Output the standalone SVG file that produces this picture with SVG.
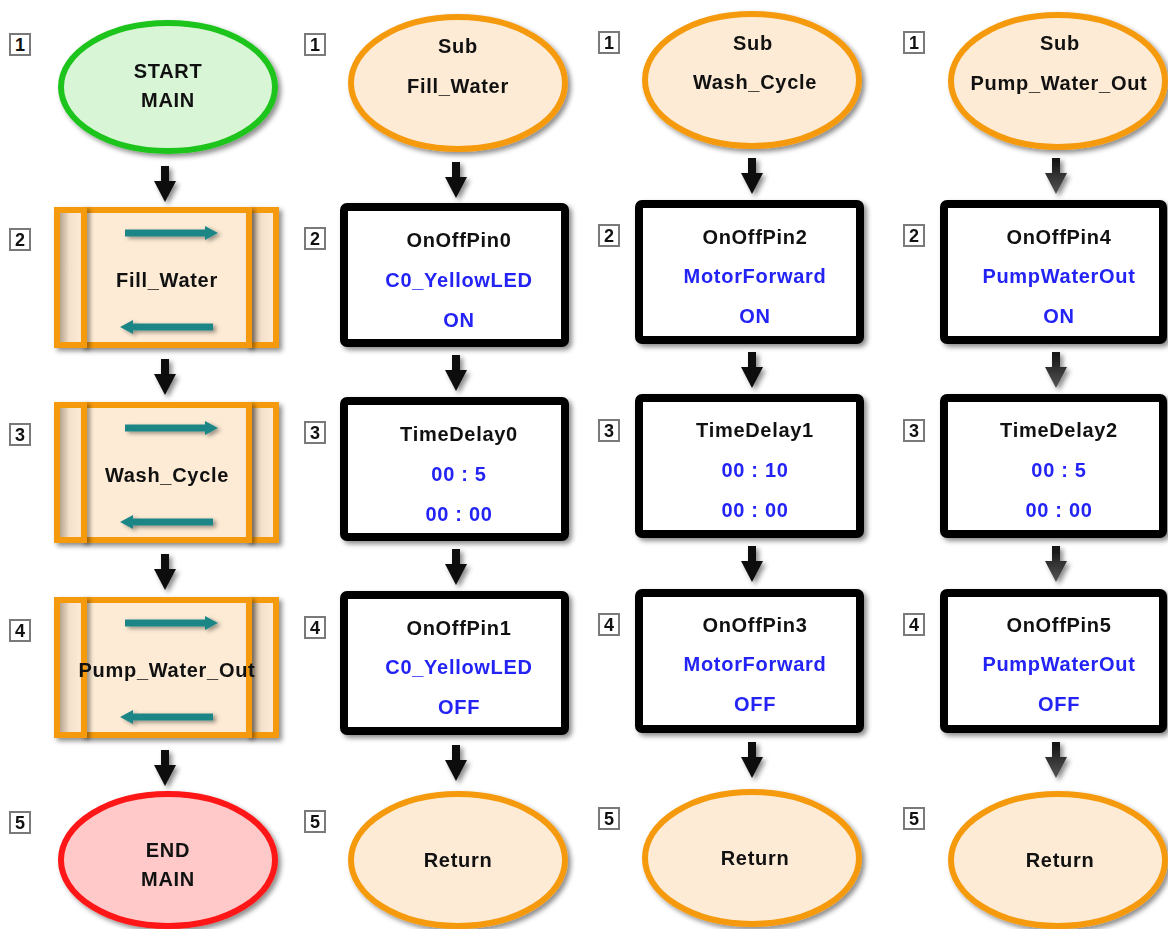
<svg xmlns="http://www.w3.org/2000/svg" xmlns:xlink="http://www.w3.org/1999/xlink" width="1168" height="929" viewBox="0 0 1168 929">
<defs>
<style>
text{font-family:"Liberation Sans",Arial,sans-serif;font-weight:bold;font-size:20px;letter-spacing:0.7px;text-anchor:middle;fill:#111}
.blue{fill:#2323f5}
.num rect{fill:#fff;stroke:#7a7a7a;stroke-width:2}
.num text{font-size:18px;letter-spacing:0}
.oval{fill:#fdebd5;stroke:#f59a10;stroke-width:6}
.box{fill:#fff;stroke:#000;stroke-width:8}
.call{fill:#fdebd5;stroke:#f59a10;stroke-width:6}
.bar{fill:#f59a10}
.side{fill:url(#sideG)}
.teal{fill:#1f8585}
.arr{fill:#111}
.garr{fill:url(#grayG)}
</style>
<filter id="sh" x="-10%" y="-10%" width="125%" height="130%">
<feDropShadow dx="3" dy="3" stdDeviation="2.5" flood-color="#000" flood-opacity="0.45"/>
</filter>
<filter id="bsh" x="-100%" y="-20%" width="400%" height="150%">
<feDropShadow dx="3" dy="2" stdDeviation="2" flood-color="#000" flood-opacity="0.4"/>
</filter>
<linearGradient id="sideG" x1="0" y1="0" x2="1" y2="0">
<stop offset="0" stop-color="#b8a58f"/>
<stop offset="0.45" stop-color="#f3e1cb"/>
<stop offset="1" stop-color="#fdebd5"/>
</linearGradient>
<linearGradient id="grayG" x1="0" y1="0" x2="0" y2="1">
<stop offset="0" stop-color="#111"/>
<stop offset="1" stop-color="#555"/>
</linearGradient>
<path id="dn" d="M-4,0 H4 V15 H11 L0,36 L-11,15 H-4 Z"/>
<path id="ra" d="M0,-3.5 H80 V-7 L93,0 L80,7 V3.5 H0 Z"/>
<path id="la" d="M0,-3.5 H-80 V-7 L-93,0 L-80,7 V3.5 H0 Z"/>
</defs>
<rect width="1168" height="929" fill="#fff"/>

<g id="connectors" filter="url(#sh)">
<g class="arr">
<use href="#dn" x="165" y="166"/>
<use href="#dn" x="165" y="359"/>
<use href="#dn" x="165" y="554"/>
<use href="#dn" x="165" y="750"/>
<use href="#dn" x="456" y="162"/>
<use href="#dn" x="456" y="355"/>
<use href="#dn" x="456" y="549"/>
<use href="#dn" x="456" y="745"/>
<use href="#dn" x="752" y="158"/>
<use href="#dn" x="752" y="352"/>
<use href="#dn" x="752" y="546"/>
<use href="#dn" x="752" y="742"/>
</g>
<g class="garr">
<use href="#dn" x="1056" y="158"/>
<use href="#dn" x="1056" y="352"/>
<use href="#dn" x="1056" y="546"/>
<use href="#dn" x="1056" y="742"/>
</g>
</g>

<!-- Column 1: MAIN -->
<g id="main-1">
<g class="num"><rect x="10" y="34" width="20" height="21"/><text x="20" y="51">1</text></g>
<ellipse cx="168" cy="87" rx="107" ry="64" fill="#d8f5d6" stroke="#1fc41f" stroke-width="6" filter="url(#sh)"/>
<text x="168" y="78">START</text>
<text x="168" y="107">MAIN</text>
</g>
<g id="main-2">
<g class="num"><rect x="10" y="229" width="20" height="21"/><text x="20" y="246">2</text></g>
<rect class="call" x="57" y="210" width="219" height="135" filter="url(#sh)"/>
<rect class="side" x="60" y="213" width="21" height="129"/>
<rect class="side" x="252" y="213" width="21" height="129"/>
<rect class="bar" x="81" y="207" width="6" height="141" filter="url(#bsh)"/>
<rect class="bar" x="246" y="207" width="6" height="141" filter="url(#bsh)"/>
<use class="teal" href="#ra" x="125" y="233" filter="url(#bsh)"/>
<use class="teal" href="#la" x="213" y="327" filter="url(#bsh)"/>
<text x="167" y="287">Fill_Water</text>
</g>
<g id="main-3">
<g class="num"><rect x="10" y="424" width="20" height="21"/><text x="20" y="441">3</text></g>
<rect class="call" x="57" y="405" width="219" height="135" filter="url(#sh)"/>
<rect class="side" x="60" y="408" width="21" height="129"/>
<rect class="side" x="252" y="408" width="21" height="129"/>
<rect class="bar" x="81" y="402" width="6" height="141" filter="url(#bsh)"/>
<rect class="bar" x="246" y="402" width="6" height="141" filter="url(#bsh)"/>
<use class="teal" href="#ra" x="125" y="428" filter="url(#bsh)"/>
<use class="teal" href="#la" x="213" y="522" filter="url(#bsh)"/>
<text x="167" y="482">Wash_Cycle</text>
</g>
<g id="main-4">
<g class="num"><rect x="10" y="620" width="20" height="21"/><text x="20" y="637">4</text></g>
<rect class="call" x="57" y="600" width="219" height="135" filter="url(#sh)"/>
<rect class="side" x="60" y="603" width="21" height="129"/>
<rect class="side" x="252" y="603" width="21" height="129"/>
<rect class="bar" x="81" y="597" width="6" height="141" filter="url(#bsh)"/>
<rect class="bar" x="246" y="597" width="6" height="141" filter="url(#bsh)"/>
<use class="teal" href="#ra" x="125" y="623" filter="url(#bsh)"/>
<use class="teal" href="#la" x="213" y="717" filter="url(#bsh)"/>
<text x="167" y="677">Pump_Water_Out</text>
</g>
<g id="main-5">
<g class="num"><rect x="10" y="812" width="20" height="21"/><text x="20" y="829">5</text></g>
<ellipse cx="168" cy="860" rx="107" ry="66" fill="#ffc9c9" stroke="#ff1414" stroke-width="6" filter="url(#sh)"/>
<text x="168" y="857">END</text>
<text x="168" y="886">MAIN</text>
</g>

<!-- Column 2: Sub Fill_Water -->
<g id="fill-1">
<g class="num"><rect x="305" y="34" width="20" height="21"/><text x="315" y="51">1</text></g>
<ellipse class="oval" cx="458" cy="83" rx="107" ry="66" filter="url(#sh)"/>
<text x="458" y="53">Sub</text>
<text x="458" y="93">Fill_Water</text>
</g>
<g id="fill-2">
<g class="num"><rect x="305" y="228" width="20" height="21"/><text x="315" y="245">2</text></g>
<rect class="box" x="344" y="207" width="221" height="136" rx="3" filter="url(#sh)"/>
<text x="459" y="247">OnOffPin0</text>
<text class="blue" x="459" y="287">C0_YellowLED</text>
<text class="blue" x="459" y="327">ON</text>
</g>
<g id="fill-3">
<g class="num"><rect x="305" y="422" width="20" height="21"/><text x="315" y="439">3</text></g>
<rect class="box" x="344" y="401" width="221" height="136" rx="3" filter="url(#sh)"/>
<text x="459" y="441">TimeDelay0</text>
<text class="blue" x="459" y="481">00 : 5</text>
<text class="blue" x="459" y="521">00 : 00</text>
</g>
<g id="fill-4">
<g class="num"><rect x="305" y="617" width="20" height="21"/><text x="315" y="634">4</text></g>
<rect class="box" x="344" y="595" width="221" height="136" rx="3" filter="url(#sh)"/>
<text x="459" y="635">OnOffPin1</text>
<text class="blue" x="459" y="674">C0_YellowLED</text>
<text class="blue" x="459" y="714">OFF</text>
</g>
<g id="fill-5">
<g class="num"><rect x="305" y="811" width="20" height="21"/><text x="315" y="828">5</text></g>
<ellipse class="oval" cx="458" cy="860" rx="107" ry="66" filter="url(#sh)"/>
<text x="458" y="867">Return</text>
</g>

<!-- Column 3: Sub Wash_Cycle -->
<g id="wash-1">
<g class="num"><rect x="599" y="32" width="20" height="21"/><text x="609" y="49">1</text></g>
<ellipse class="oval" cx="752" cy="80" rx="107" ry="66" filter="url(#sh)"/>
<text x="753" y="50">Sub</text>
<text x="755" y="89">Wash_Cycle</text>
</g>
<g id="wash-2">
<g class="num"><rect x="599" y="225" width="20" height="21"/><text x="609" y="242">2</text></g>
<rect class="box" x="639" y="204" width="221" height="136" rx="3" filter="url(#sh)"/>
<text x="755" y="244">OnOffPin2</text>
<text class="blue" x="755" y="283">MotorForward</text>
<text class="blue" x="755" y="323">ON</text>
</g>
<g id="wash-3">
<g class="num"><rect x="599" y="420" width="20" height="21"/><text x="609" y="437">3</text></g>
<rect class="box" x="639" y="398" width="221" height="136" rx="3" filter="url(#sh)"/>
<text x="755" y="437">TimeDelay1</text>
<text class="blue" x="755" y="477">00 : 10</text>
<text class="blue" x="755" y="517">00 : 00</text>
</g>
<g id="wash-4">
<g class="num"><rect x="599" y="614" width="20" height="21"/><text x="609" y="631">4</text></g>
<rect class="box" x="639" y="593" width="221" height="136" rx="3" filter="url(#sh)"/>
<text x="755" y="632">OnOffPin3</text>
<text class="blue" x="755" y="671">MotorForward</text>
<text class="blue" x="755" y="711">OFF</text>
</g>
<g id="wash-5">
<g class="num"><rect x="599" y="808" width="20" height="21"/><text x="609" y="825">5</text></g>
<ellipse class="oval" cx="752" cy="858" rx="107" ry="66" filter="url(#sh)"/>
<text x="755" y="865">Return</text>
</g>

<!-- Column 4: Sub Pump_Water_Out -->
<g id="pump-1">
<g class="num"><rect x="904" y="32" width="20" height="21"/><text x="914" y="49">1</text></g>
<ellipse class="oval" cx="1058" cy="81" rx="107" ry="66" filter="url(#sh)"/>
<text x="1060" y="50">Sub</text>
<text x="1059" y="90">Pump_Water_Out</text>
</g>
<g id="pump-2">
<g class="num"><rect x="904" y="225" width="20" height="21"/><text x="914" y="242">2</text></g>
<rect class="box" x="944" y="204" width="219" height="136" rx="3" filter="url(#sh)"/>
<text x="1059" y="244">OnOffPin4</text>
<text class="blue" x="1059" y="283">PumpWaterOut</text>
<text class="blue" x="1059" y="323">ON</text>
</g>
<g id="pump-3">
<g class="num"><rect x="904" y="420" width="20" height="21"/><text x="914" y="437">3</text></g>
<rect class="box" x="944" y="398" width="219" height="136" rx="3" filter="url(#sh)"/>
<text x="1059" y="437">TimeDelay2</text>
<text class="blue" x="1059" y="477">00 : 5</text>
<text class="blue" x="1059" y="517">00 : 00</text>
</g>
<g id="pump-4">
<g class="num"><rect x="904" y="614" width="20" height="21"/><text x="914" y="631">4</text></g>
<rect class="box" x="944" y="593" width="219" height="136" rx="3" filter="url(#sh)"/>
<text x="1059" y="632">OnOffPin5</text>
<text class="blue" x="1059" y="671">PumpWaterOut</text>
<text class="blue" x="1059" y="711">OFF</text>
</g>
<g id="pump-5">
<g class="num"><rect x="904" y="808" width="20" height="21"/><text x="914" y="825">5</text></g>
<ellipse class="oval" cx="1058" cy="860" rx="107" ry="66" filter="url(#sh)"/>
<text x="1060" y="867">Return</text>
</g>
</svg>
